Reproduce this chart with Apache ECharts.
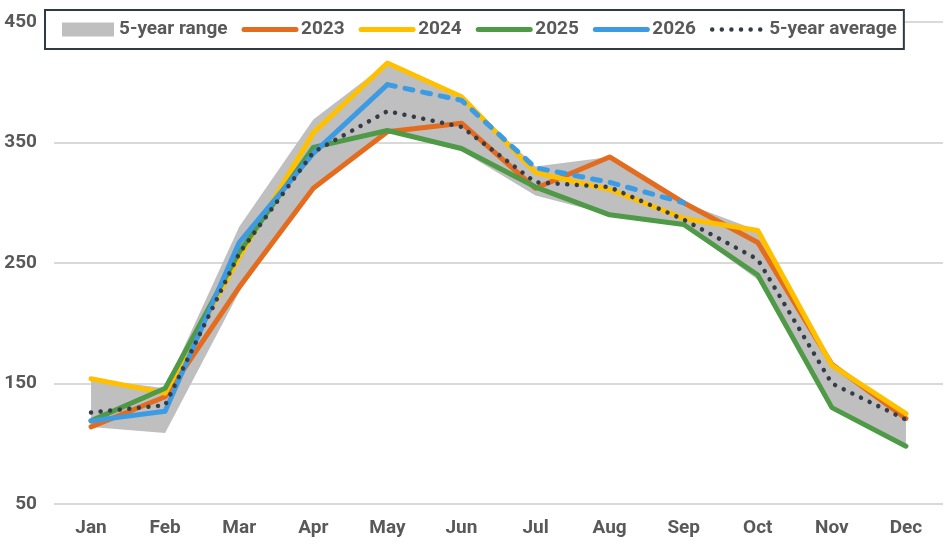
<!DOCTYPE html>
<html>
<head>
<meta charset="utf-8">
<title>Monthly values vs 5-year range</title>
<script src="https://cdn.jsdelivr.net/npm/echarts@6/dist/echarts.min.js"></script>
<style>
  html, body { margin: 0; padding: 0; background: #fff; }
  #chart { width: 950px; height: 550px; }
</style>
</head>
<body>
<div id="chart"></div>
<script>
  // months on the x axis
  var months = ['Jan', 'Feb', 'Mar', 'Apr', 'May', 'Jun', 'Jul', 'Aug', 'Sep', 'Oct', 'Nov', 'Dec'];

  // yearly series
  var y2023 = [114, 139, 230, 312, 359, 366, 312, 338, 300, 267, 166, 121];
  var y2024 = [154, 142, 255, 358, 416, 388, 325, 311, 287, 277, 165, 125];
  var y2025 = [119, 146, 259, 346, 360, 345, 313, 290, 282, 240, 130, 98];
  // 2026 actuals, then the dashed part (forecast)
  var y2026 = [119, 127, 267, 341, 398, null, null, null, null, null, null, null];
  var y2026Fcst = [null, null, null, null, 398, 385, 329, 317, 300, null, null, null];

  // 5-year stats
  var avg5 = [126, 132, 258, 342, 376, 363, 317, 313, 286, 253, 150, 120];
  var rangeMin = [114, 109, 226, 312, 359, 343, 306, 290, 281, 236, 130, 98];
  var rangeMax = [154, 146, 280, 369, 416, 388, 330, 338, 300, 277, 167, 125];

  var textGrey = '#595959';

  var chart = echarts.init(document.getElementById('chart'));

  // band = min (invisible) + (max - min) stacked on top
  var rangeSpan = rangeMax.map(function (v, i) { return v - rangeMin[i]; });

  function yearLine(name, data, color) {
    return {
      name: name,
      type: 'line',
      data: data,
      symbol: 'none',
      color: color,
      lineStyle: { color: color, width: 5, cap: 'round', join: 'round' },
      z: 3
    };
  }

  chart.setOption({
    animation: false,
    textStyle: { fontFamily: 'Roboto, "DejaVu Sans", sans-serif' },
    legend: {
      left: 45,
      top: 10,
      padding: [10, 7, 10, 17],
      itemGap: 14,
      itemWidth: 52,
      itemHeight: 14,
      borderColor: '#2f3a44',
      borderWidth: 2,
      backgroundColor: '#ffffff',
      // hide the dot that line series put in their legend icon, keep the line
      itemStyle: { opacity: 0 },
      lineStyle: { width: 'inherit' },
      textStyle: { color: textGrey, fontSize: 19, fontWeight: 'bold' },
      data: [
        { name: '5-year range', icon: 'rect', itemStyle: { opacity: 1, color: '#bfbfbf' } },
        '2023', '2024', '2025', '2026', '5-year average'
      ]
    },
    grid: { left: 54, right: 7, top: 22, bottom: 46 },
    xAxis: {
      type: 'category',
      data: months,
      boundaryGap: true,
      axisLine: { show: false },
      axisTick: { show: false },
      axisLabel: { color: textGrey, fontSize: 19, fontWeight: 'bold', margin: 15 }
    },
    yAxis: {
      type: 'value',
      min: 50,
      max: 450,
      interval: 100,
      axisLine: { show: false },
      axisTick: { show: false },
      axisLabel: { color: textGrey, fontSize: 19, fontWeight: 'bold', margin: 17 },
      splitLine: { lineStyle: { color: '#d9d9d9', width: 2 } }
    },
    series: [
      {
        name: 'rangeBase',
        type: 'line',
        stack: 'range',
        data: rangeMin,
        symbol: 'none',
        silent: true,
        lineStyle: { width: 0, opacity: 0 },
        z: 1
      },
      {
        name: '5-year range',
        type: 'line',
        stack: 'range',
        data: rangeSpan,
        symbol: 'none',
        silent: true,
        color: '#bfbfbf',
        itemStyle: { color: '#bfbfbf' },
        lineStyle: { width: 0, opacity: 0 },
        areaStyle: { color: '#bfbfbf', opacity: 1 },
        z: 1
      },
      yearLine('2023', y2023, '#e36c1e'),
      yearLine('2024', y2024, '#ffc000'),
      yearLine('2025', y2025, '#4e9a47'),
      yearLine('2026', y2026, '#3d9be3'),
      {
        name: '2026',
        type: 'line',
        data: y2026Fcst,
        symbol: 'none',
        color: '#3d9be3',
        lineStyle: { color: '#3d9be3', width: 5, type: [8, 10], cap: 'round', join: 'round' },
        z: 3
      },
      {
        name: '5-year average',
        type: 'line',
        data: avg5,
        symbol: 'none',
        color: '#333c47',
        lineStyle: { color: '#333c47', width: 4.5, type: [0.01, 9.6], cap: 'round' },
        z: 4
      }
    ]
  });
</script>
</body>
</html>
